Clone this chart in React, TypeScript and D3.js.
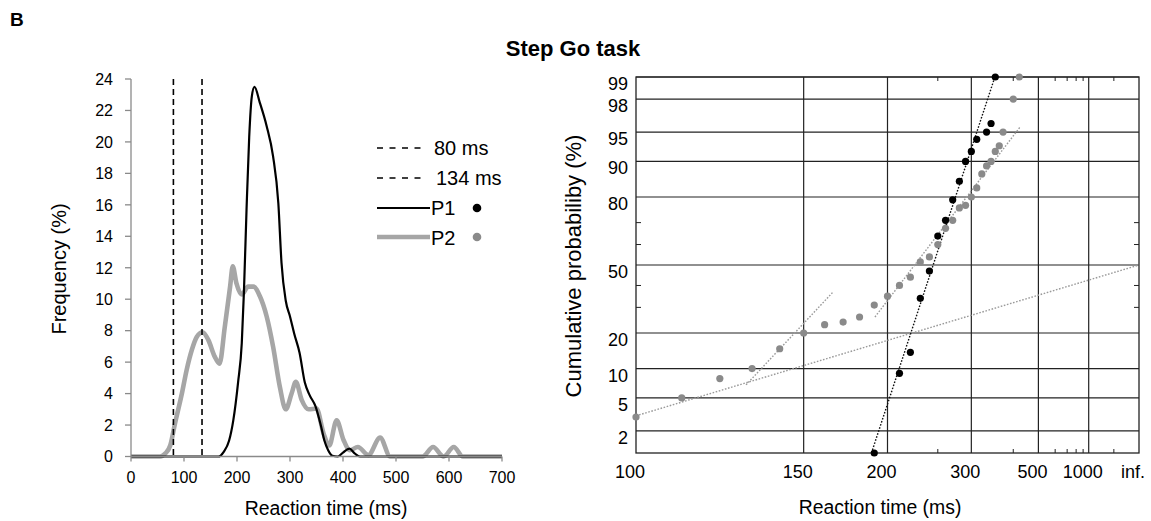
import React from 'react';
import * as d3 from 'd3';

// ---------- Left panel: frequency distributions ----------
const freqTicks = [0, 2, 4, 6, 8, 10, 12, 14, 16, 18, 20, 22, 24];
const rtTicks = [0, 100, 200, 300, 400, 500, 600, 700];
const cutoffs = [80, 134];
const legendLabels = ['80 ms', '134 ms', 'P1', 'P2'];

const p1DensityRt = [0, 165, 175, 185, 193, 202, 209, 213, 218, 223, 228, 233, 243, 256, 268, 278, 284, 292, 300, 308, 318, 328, 337, 348, 358, 365, 372, 380, 390, 400, 412, 422, 432, 700];
const p1DensityFreq = [0, 0, 0.3, 1.0, 2.3, 4.7, 7.2, 10.4, 15.7, 20.3, 22.9, 23.5, 22.5, 21.0, 19.1, 16.1, 12.3, 9.9, 8.9, 7.8, 6.6, 4.7, 3.9, 3.2, 2.0, 1.0, 0.4, 0.05, 0, 0.25, 0.5, 0.2, 0, 0];

const p2DensityRt = [0, 55, 65, 74, 83, 96, 105, 115, 124, 135, 146, 158, 167, 177, 187, 192, 199, 209, 221, 231, 243, 256, 268, 281, 292, 303, 311, 322, 335, 350, 363, 374, 388, 401, 413, 428, 448, 470, 489, 550, 570, 590, 609, 626, 700];
const p2DensityFreq = [0, 0, 0.2, 0.7, 2.1, 4.0, 5.5, 6.8, 7.6, 7.9, 7.4, 6.35, 5.9, 8.25, 10.8, 12.1, 11.0, 10.3, 10.8, 10.8, 10.2, 8.9, 7.0, 4.4, 3.0, 4.0, 4.75, 3.6, 3.0, 3.05, 1.5, 0.7, 2.3, 1.05, 0.4, 0.6, 0.1, 1.2, 0, 0, 0.6, 0, 0.6, 0, 0];

// ---------- Right panel: reciprobit plot ----------
const p1Rt = [190, 210, 220, 230, 240, 250, 260, 270, 280, 290, 300, 310, 330, 340, 350];
const p1Cum = [1, 9, 14, 34, 47, 64, 71, 79, 85, 90, 92, 94, 95, 96, 99];

const p2Rt = [100, 110, 120, 130, 140, 150, 160, 170, 180, 190, 200, 210, 220, 230, 240, 250, 260, 270, 280, 290, 300, 310, 320, 330, 340, 350, 360, 370, 400, 420];
const p2Cum = [3, 5, 8, 10, 15, 20, 23, 24, 26, 31, 35, 40, 44, 51.5, 54, 60, 67.5, 71, 76, 77, 80, 83, 87, 89, 90, 92, 93, 95, 98, 99];

const p1FitRt = [188, 349];
const p1FitCum = [1, 99];
const p2FitARt = [100, Infinity];
const p2FitACum = [3.1, 50];
const p2FitBRt = [128, 164.5];
const p2FitBCum = [6.9, 37];
const p2FitCRt = [190.5, 425];
const p2FitCCum = [26, 95.7];

const probTicks = [2, 5, 10, 20, 50, 80, 90, 95, 98, 99];
const probMinorTicks = [30, 40, 60, 70];
const rtGrid = [150, 200, 300, 500, 1000];
const rtLabelValues = [100, 150, 200, 300, 500, 1000, Infinity];
const rtLabelTexts = ['100', '150', '200', '300', '500', '1000', 'inf.'];
const rtMinorTicks = [250, 400, 600, 700, 800, 900, 2000];

// inverse standard normal CDF (Acklam)
function probit(p: number): number {
  const a = [-3.969683028665376e1, 2.209460984245205e2, -2.759285104469687e2, 1.38357751867269e2, -3.066479806614716e1, 2.506628277459239];
  const b = [-5.447609879822406e1, 1.615858368580409e2, -1.556989798598866e2, 6.680131188771972e1, -1.328068155288572e1];
  const c = [-7.784894002430293e-3, -3.223964580411365e-1, -2.400758277161838, -2.549732539343734, 4.374664141464968, 2.938163982698783];
  const d = [7.784695709041462e-3, 3.224671290700398e-1, 2.445134137142996, 3.754408661907416];
  const pl = 0.02425;
  if (p < pl) {
    const q = Math.sqrt(-2 * Math.log(p));
    return (((((c[0] * q + c[1]) * q + c[2]) * q + c[3]) * q + c[4]) * q + c[5]) / ((((d[0] * q + d[1]) * q + d[2]) * q + d[3]) * q + 1);
  }
  if (p > 1 - pl) {
    const q = Math.sqrt(-2 * Math.log(1 - p));
    return -(((((c[0] * q + c[1]) * q + c[2]) * q + c[3]) * q + c[4]) * q + c[5]) / ((((d[0] * q + d[1]) * q + d[2]) * q + d[3]) * q + 1);
  }
  const q = p - 0.5;
  const r = q * q;
  return (((((a[0] * r + a[1]) * r + a[2]) * r + a[3]) * r + a[4]) * r + a[5]) * q / (((((b[0] * r + b[1]) * r + b[2]) * r + b[3]) * r + b[4]) * r + 1);
}

const FONT = "'Liberation Sans', Arial, Helvetica, sans-serif";
const GRAY_LINE = '#a6a6a6';
const GRAY_DOT = '#8a8a8a';

export default function App() {
  // left scales
  const xL = d3.scaleLinear().domain([0, 700]).range([131, 502]);
  const yL = d3.scaleLinear().domain([0, 24]).range([456.5, 79]);
  const line = d3
    .line<[number, number]>()
    .x((d) => xL(d[0]))
    .y((d) => yL(d[1]))
    .curve(d3.curveMonotoneX);
  const p1Path = line(p1DensityRt.map((t, i) => [t, p1DensityFreq[i]] as [number, number])) || '';
  const p2Path = line(p2DensityRt.map((t, i) => [t, p2DensityFreq[i]] as [number, number])) || '';

  // right scales (reciprocal time vs probit)
  const xR = d3.scaleLinear().domain([-1 / 100, 0]).range([636, 1139]);
  const rx = (t: number) => xR(-1 / t);
  const yR = d3.scaleLinear().domain([probit(0.01), probit(0.99)]).range([453, 77]);
  const ry = (pct: number) => yR(probit(pct / 100));
  const left = 636, right = 1139, top = 77, bottom = 453;

  const fits = [
    { rt: p2FitARt, cum: p2FitACum, color: '#9a9a9a' },
    { rt: p2FitBRt, cum: p2FitBCum, color: '#9a9a9a' },
    { rt: p2FitCRt, cum: p2FitCCum, color: '#9a9a9a' },
    { rt: p1FitRt, cum: p1FitCum, color: '#111' },
  ];

  const legendY = [148, 178, 208, 237];

  return (
    <svg width={1151} height={521} style={{ position: 'absolute', left: 0, top: 0, background: '#fff' }} fontFamily={FONT}>
      <rect x={0} y={0} width={1151} height={521} fill="#fff" />
      <text x={10} y={26} fontSize={19} fontWeight="bold">B</text>
      <text x={573} y={56} fontSize={22} fontWeight="bold" textAnchor="middle">Step Go task</text>

      {/* ---------- Left panel ---------- */}
      <path d={p2Path} fill="none" stroke={GRAY_LINE} strokeWidth={4.6} strokeLinejoin="round" />
      <path d={p1Path} fill="none" stroke="#000" strokeWidth={2.2} strokeLinejoin="round" />
      {cutoffs.map((c) => (
        <line key={c} x1={xL(c)} x2={xL(c)} y1={yL(24)} y2={yL(0)} stroke="#000" strokeWidth={1.6} strokeDasharray="6,4" />
      ))}
      <line x1={xL(0)} x2={xL(0)} y1={yL(24)} y2={yL(0)} stroke="#8a8a8a" strokeWidth={1.3} />
      <line x1={xL(0)} x2={xL(700)} y1={yL(0)} y2={yL(0)} stroke="#8a8a8a" strokeWidth={1.3} />
      {freqTicks.map((t) => (
        <g key={t}>
          <line x1={xL(0) - 6} x2={xL(0)} y1={yL(t)} y2={yL(t)} stroke="#8a8a8a" strokeWidth={1.3} />
          <text x={113} y={yL(t)} dy="0.36em" fontSize={16} textAnchor="end">{t}</text>
        </g>
      ))}
      {rtTicks.map((t) => (
        <g key={t}>
          <line x1={xL(t)} x2={xL(t)} y1={yL(0)} y2={yL(0) + 5} stroke="#8a8a8a" strokeWidth={1.3} />
          <text x={xL(t)} y={483} fontSize={16} textAnchor="middle">{t}</text>
        </g>
      ))}
      <text x={326} y={515} fontSize={19.4} textAnchor="middle">Reaction time (ms)</text>
      <text transform="translate(66,269) rotate(-90)" fontSize={20} textAnchor="middle">Frequency (%)</text>

      {/* legend */}
      <line x1={377} x2={423} y1={legendY[0]} y2={legendY[0]} stroke="#000" strokeWidth={1.5} strokeDasharray="6,6.5" />
      <line x1={377} x2={423} y1={legendY[1]} y2={legendY[1]} stroke="#000" strokeWidth={1.5} strokeDasharray="6,6.5" />
      <line x1={377} x2={430} y1={legendY[2]} y2={legendY[2]} stroke="#000" strokeWidth={2.2} />
      <line x1={377} x2={430} y1={legendY[3]} y2={legendY[3]} stroke={GRAY_LINE} strokeWidth={4.6} />
      <text x={434} y={155} fontSize={20}>{legendLabels[0]}</text>
      <text x={436} y={185} fontSize={20}>{legendLabels[1]}</text>
      <text x={431} y={215} fontSize={20}>{legendLabels[2]}</text>
      <text x={431} y={245} fontSize={20}>{legendLabels[3]}</text>
      <circle cx={477} cy={legendY[2]} r={4.3} fill="#000" />
      <circle cx={477} cy={legendY[3]} r={4.3} fill={GRAY_DOT} />

      {/* ---------- Right panel ---------- */}
      {probTicks.map((p) => (
        <g key={p}>
          <line x1={left} x2={right} y1={ry(p)} y2={ry(p)} stroke="#222" strokeWidth={1.2} />
          <text x={628} y={ry(p) + 13} fontSize={18} textAnchor="end">{p}</text>
        </g>
      ))}
      {rtGrid.map((t) => (
        <line key={t} x1={rx(t)} x2={rx(t)} y1={top} y2={bottom} stroke="#222" strokeWidth={1.2} />
      ))}
      {probMinorTicks.map((p) => (
        <g key={p}>
          <line x1={left} x2={left + 5} y1={ry(p)} y2={ry(p)} stroke="#222" strokeWidth={1} />
          <line x1={right - 5} x2={right} y1={ry(p)} y2={ry(p)} stroke="#222" strokeWidth={1} />
        </g>
      ))}
      {rtMinorTicks.map((t) => (
        <g key={t}>
          <line x1={rx(t)} x2={rx(t)} y1={top} y2={top + 4} stroke="#222" strokeWidth={1} />
          <line x1={rx(t)} x2={rx(t)} y1={bottom - 4} y2={bottom} stroke="#222" strokeWidth={1} />
        </g>
      ))}
      <rect x={left} y={top} width={right - left} height={bottom - top} fill="none" stroke="#222" strokeWidth={1.3} />
      {rtLabelValues.map((t, i) => (
        <text key={i} x={rx(t) - 6} y={478} fontSize={18} textAnchor="middle">{rtLabelTexts[i]}</text>
      ))}
      <text x={880} y={514} fontSize={19.4} textAnchor="middle">Reaction time (ms)</text>
      <text transform="translate(581,266) rotate(-90)" fontSize={22} textAnchor="middle">Cumulative probabiliby (%)</text>

      {fits.map((f, i) => (
        <line
          key={i}
          x1={rx(f.rt[0])}
          y1={ry(f.cum[0])}
          x2={rx(f.rt[1])}
          y2={ry(f.cum[1])}
          stroke={f.color}
          strokeWidth={1.4}
          strokeDasharray="1.6,1.6"
        />
      ))}
      {p2Rt.map((t, i) => (
        <circle key={'g' + i} cx={rx(t)} cy={ry(p2Cum[i])} r={3.6} fill={GRAY_DOT} />
      ))}
      {p1Rt.map((t, i) => (
        <circle key={'b' + i} cx={rx(t)} cy={ry(p1Cum[i])} r={3.6} fill="#000" />
      ))}
    </svg>
  );
}
